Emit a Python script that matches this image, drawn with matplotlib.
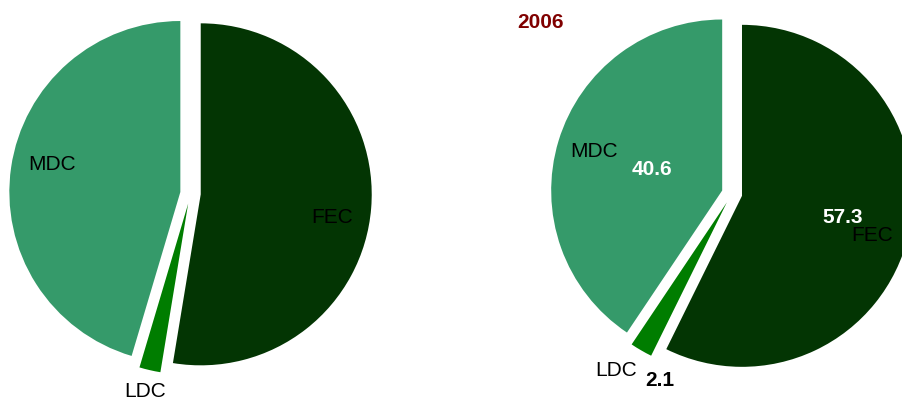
import matplotlib.pyplot as plt
import numpy as np

plt.rcParams['font.family'] = ['Liberation Sans', 'DejaVu Sans']

# data
categories = ['FEC', 'LDC', 'MDC']
left_values = [52.6, 2.0, 45.4]
right_values = [57.3, 2.1, 40.6]
right_title = '2006'
colors = ['#033503', '#007d00', '#359a6a']

# layout (pixels, figure is 902x400)
W, H = 902, 400
R = 171
centers = [(190.5, H - 193.5), (732, H - 193.5)]
# explode in matplotlib is an absolute offset, so scale by radius
explode = [0.06 * R] * 3

# label placement: (distance in radii, angle tweak in degrees)
left_cat_pos = {'FEC': (0.84, -4.8), 'LDC': (1.19, 0.0), 'MDC': (0.826, -3.5)}
right_cat_pos = {'FEC': (0.854, -3.4), 'LDC': (1.235, -3.2), 'MDC': (0.846, 0.0)}
right_val_pos = {'FEC': (0.66, 1.0), 'LDC': (1.17, 9.0), 'MDC': (0.49, 0.0)}
val_colors = {'FEC': 'white', 'LDC': 'black', 'MDC': 'white'}

fig = plt.figure(figsize=(W / 100, H / 100), dpi=100)
ax = fig.add_axes([0, 0, 1, 1])


def place(wedges, center, pos, texts, bold=False):
    for w, cat, txt in zip(wedges, categories, texts):
        d, tweak = pos[cat]
        ang = np.deg2rad((w.theta1 + w.theta2) / 2 + tweak)
        x = center[0] + d * R * np.cos(ang)
        y = center[1] + d * R * np.sin(ang)
        ax.text(x, y, txt, ha='center', va='center', fontsize=15,
                color=val_colors[cat] if bold else 'black',
                fontweight='bold' if bold else 'normal')


for i, (vals, center) in enumerate(zip([left_values, right_values], centers)):
    wedges, _ = ax.pie(vals, colors=colors, explode=explode, startangle=90,
                       counterclock=False, radius=R, center=center,
                       wedgeprops=dict(linewidth=0))
    if i == 0:
        place(wedges, center, left_cat_pos, categories)
    else:
        place(wedges, center, right_cat_pos, categories)
        place(wedges, center, right_val_pos,
              [f'{v:.1f}' for v in vals], bold=True)

ax.text(540, H - 23, right_title, ha='center', va='center', fontsize=15,
        fontweight='bold', color='#800000')

ax.set_xlim(0, W)
ax.set_ylim(0, H)
ax.set_aspect('equal')
ax.axis('off')

fig.savefig('out.png', dpi=100)
